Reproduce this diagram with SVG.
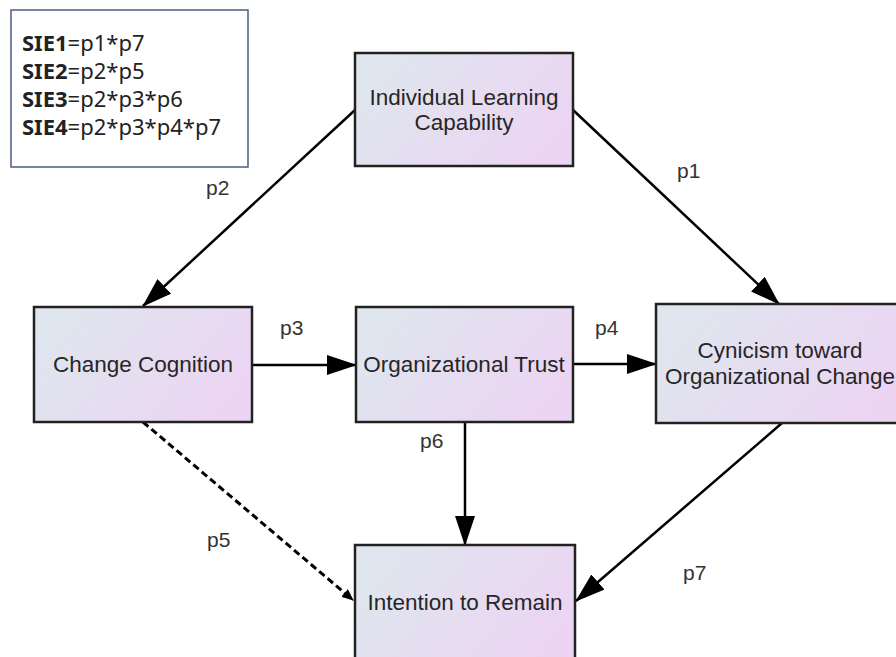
<svg xmlns="http://www.w3.org/2000/svg" width="896" height="657" viewBox="0 0 896 657">
<defs>
<linearGradient id="g" x1="0" y1="0.3" x2="1" y2="0.7">
<stop offset="0" stop-color="#dfe6ee"/>
<stop offset="1" stop-color="#ecd4f3"/>
</linearGradient>
<marker id="ah" markerUnits="userSpaceOnUse" markerWidth="30" markerHeight="20" refX="29" refY="10" orient="auto">
<path d="M0,0 L30,10 L0,20 z" fill="#000"/>
</marker>
<marker id="ahs" markerUnits="userSpaceOnUse" markerWidth="12" markerHeight="10" refX="11" refY="5" orient="auto">
<path d="M0,0 L12,5 L0,10 z" fill="#000"/>
</marker>
</defs>
<style>
.box{fill:url(#g);stroke:#222;stroke-width:2.5}
.nt{font-family:"Liberation Sans",Arial,sans-serif;font-size:22.5px;fill:#262626;text-anchor:middle}
.lb{font-family:"Liberation Sans",Arial,sans-serif;font-size:21px;fill:#333}
.ln{stroke:#000;stroke-width:2.5;fill:none;marker-end:url(#ah)}
.dl{stroke:#000;stroke-width:3;fill:none;stroke-dasharray:7,4;marker-end:url(#ahs)}
.lg{font-family:"Noto Sans","Liberation Sans",sans-serif;font-size:22px;fill:#222}
</style>
<rect width="896" height="657" fill="#fff"/>
<g id="legend">
<rect x="11" y="10" width="237" height="157" fill="#fff" stroke="#4d5d80" stroke-width="1.5"/>
<text class="lg" x="22" y="51"><tspan font-weight="bold">SIE1</tspan>=p1*p7</text>
<text class="lg" x="22" y="79"><tspan font-weight="bold">SIE2</tspan>=p2*p5</text>
<text class="lg" x="22" y="107"><tspan font-weight="bold">SIE3</tspan>=p2*p3*p6</text>
<text class="lg" x="22" y="135"><tspan font-weight="bold">SIE4</tspan>=p2*p3*p4*p7</text>
</g>
<g id="connectors">
<line class="ln" x1="355" y1="110" x2="143" y2="306"/>
<line class="ln" x1="573" y1="110" x2="779" y2="304"/>
<line class="ln" x1="252" y1="365" x2="356" y2="365"/>
<line class="ln" x1="573" y1="364" x2="656" y2="364"/>
<line class="ln" x1="465" y1="422" x2="465" y2="545"/>
<line class="ln" x1="782" y1="423" x2="576" y2="601"/>
<line class="dl" x1="143" y1="422" x2="353" y2="600"/>
<text class="lb" x="206" y="195">p2</text>
<text class="lb" x="677" y="178">p1</text>
<text class="lb" x="280" y="335">p3</text>
<text class="lb" x="595" y="335">p4</text>
<text class="lb" x="420" y="448">p6</text>
<text class="lb" x="207" y="547">p5</text>
<text class="lb" x="683" y="580">p7</text>
</g>
<g id="ilc">
<rect class="box" x="355" y="53" width="218" height="113"/>
<text class="nt" x="464" y="105">Individual Learning</text>
<text class="nt" x="464" y="130">Capability</text>
</g>
<g id="cc">
<rect class="box" x="34" y="307" width="218" height="115"/>
<text class="nt" x="143" y="372">Change Cognition</text>
</g>
<g id="ot">
<rect class="box" x="356" y="307" width="217" height="115"/>
<text class="nt" x="464" y="372">Organizational Trust</text>
</g>
<g id="coc">
<rect class="box" x="656" y="304" width="250" height="119"/>
<text class="nt" x="780" y="358">Cynicism toward</text>
<text class="nt" x="780" y="384">Organizational Change</text>
</g>
<g id="itr">
<rect class="box" x="355" y="545" width="220" height="117"/>
<text class="nt" x="465" y="610">Intention to Remain</text>
</g>
</svg>
